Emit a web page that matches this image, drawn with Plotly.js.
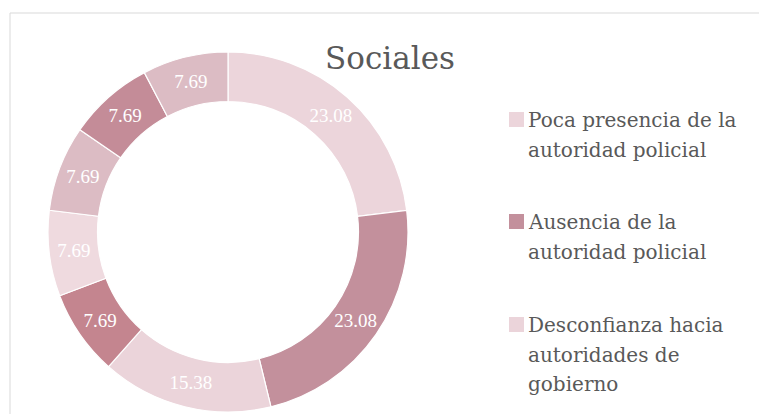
<!DOCTYPE html>
<html>
<head>
<meta charset="utf-8">
<script src="https://cdn.plot.ly/plotly-3.0.1.min.js"></script>
<style>html,body{margin:0;padding:0;background:#fff;}#chart{width:759px;height:414px;}</style>
</head>
<body>
<div id="chart"></div>
<script>
// Slice values, clockwise from 12 o'clock
const values = [23.08, 23.08, 15.38, 7.69, 7.69, 7.69, 7.69, 7.69];
const sliceColors = ['#ecd5db', '#c3909c', '#ebd4da', '#c4858f', '#efdadf', '#dcbcc4', '#c48c98', '#dcbcc4'];
// Visible legend entries (first three slices), one array of lines per entry
const legendLabels = [
  ['Poca presencia de la', 'autoridad policial'],
  ['Ausencia de la', 'autoridad policial'],
  ['Desconfianza hacia', 'autoridades de', 'gobierno']
];
const titleText = 'Sociales';

const W = 759, H = 414;
const serif = '"DejaVu Serif", "Liberation Serif", serif';
const serif2 = '"Liberation Serif", "DejaVu Serif", serif';

const annotations = [];
const shapes = [];
// chart frame
shapes.push({type:'line', xref:'paper', yref:'paper', x0:10/W, x1:1.05, y0:1-13/H, y1:1-13/H, line:{color:'#d9d9d9', width:1}});
shapes.push({type:'line', xref:'paper', yref:'paper', x0:10/W, x1:10/W, y0:1-13/H, y1:-0.05, line:{color:'#d9d9d9', width:1}});

const legMid = [120, 222, 325];
const lineStep = 29.5;
legendLabels.forEach((lines, i) => {
  lines.forEach((ln, j) => {
    annotations.push({
      text: ln, xref:'paper', yref:'paper', x:526/W, y:1-(legMid[i] + j*lineStep)/H,
      xanchor:'left', yanchor:'middle', align:'left', showarrow:false,
      font:{family:serif, size:20, color:'#595959'}
    });
  });
  shapes.push({type:'rect', xref:'paper', yref:'paper', x0:509/W, x1:524/W,
    y0:1-(legMid[i]+7)/H, y1:1-(legMid[i]-8)/H, fillcolor:sliceColors[i], line:{width:0}});
});

const trace = {
  type:'pie',
  values: values,
  sort:false,
  direction:'clockwise',
  rotation:0,
  hole:0.725,
  marker:{colors:sliceColors, line:{color:'#ffffff', width:1.2}},
  texttemplate:'%{value:.2f}',
  textposition:'inside',
  insidetextorientation:'horizontal',
  textfont:{family:serif2, size:19, color:'#ffffff'},
  domain:{x:[48/W, 408/W], y:[2/H, 362/H]},
  showlegend:false,
  hoverinfo:'value'
};

const layout = {
  width:W, height:H,
  margin:{l:0, r:0, t:0, b:0},
  paper_bgcolor:'#ffffff',
  title:{text:titleText, x:390/W, xanchor:'center', y:1-58/H, yanchor:'middle',
    font:{family:serif, size:31, color:'#595959'}},
  showlegend:false,
  annotations:annotations,
  shapes:shapes
};

Plotly.newPlot('chart', [trace], layout, {displayModeBar:false, staticPlot:true});
</script>
</body>
</html>
